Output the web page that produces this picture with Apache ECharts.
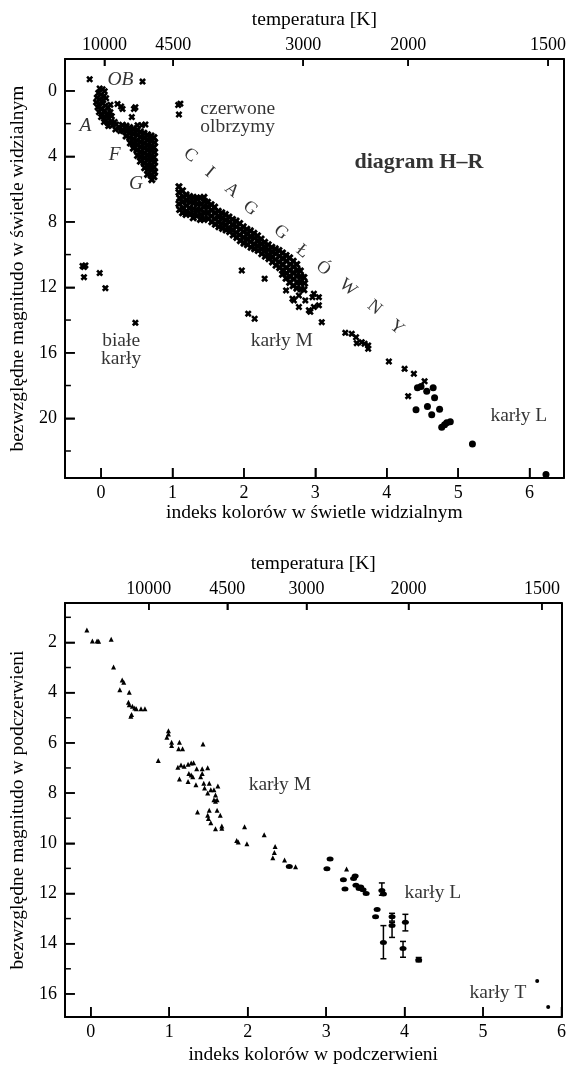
<!DOCTYPE html>
<html><head><meta charset="utf-8">
<script src="https://cdn.jsdelivr.net/npm/echarts@6/dist/echarts.min.js"></script>
<style>html,body{margin:0;padding:0;background:#fff}#c{width:569px;height:1066px}</style>
</head><body><div id="c"></div><script>
// ---------- axis ticks / labels ----------
const xTicksTop = [0, 1, 2, 3, 4, 5, 6];
const yLabelsTop = [0, 4, 8, 12, 16, 20];
const yMinorTop = [2, 6, 10, 14, 18, 22];
const tempLabels = ['10000', '4500', '3000', '2000', '1500'];
const tempPosTop = [0.046, 1.01, 2.83, 4.30, 6.26];
const xTicksBot = [0, 1, 2, 3, 4, 5, 6];
const yLabelsBot = [2, 4, 6, 8, 10, 12, 14, 16];
const yMinorBot = [1, 3, 5, 7, 9, 11, 13, 15];
const tempPosBot = [0.74, 1.74, 2.75, 4.05, 5.75];

// ---------- top chart (visible) ----------
const topOBA = [[-0.16,-0.71],[0.58,-0.57],
[-0.02,-0.15],[0.02,-0.10],[0.05,0.02],[-0.04,0.12],[0.00,0.22],[0.04,0.32],[-0.06,0.42],[-0.02,0.52],[0.03,0.56],[0.07,0.45],
[-0.07,0.70],[-0.03,0.80],[0.02,0.76],[0.06,0.90],[-0.05,1.00],[0.00,1.10],[0.05,1.20],[0.10,1.02],[0.13,0.85],
[-0.03,1.30],[0.02,1.45],[0.08,1.40],[0.13,1.30],[0.00,1.60],[0.05,1.70],[0.10,1.65],[0.15,1.55],
[0.04,1.90],[0.09,1.95],[0.14,1.85],[0.19,1.90],[0.10,2.15],[0.16,2.10],[0.21,2.05],[0.25,2.20],[0.20,2.35],[0.27,2.45],
[0.23,0.80],[0.28,0.95],[0.30,1.10],[0.46,1.10],[0.48,1.00],[0.43,1.60],[0.51,2.10],[0.57,2.10],[0.62,2.05]];
const topFG = [[0.30,2.10],[0.31,2.42],
[0.35,2.15],[0.36,2.47],[0.35,2.76],
[0.40,2.24],[0.41,2.56],[0.40,2.86],[0.41,3.18],
[0.45,2.30],[0.46,2.62],[0.45,2.92],[0.46,3.22],[0.45,3.50],
[0.50,2.40],[0.51,2.70],[0.50,3.02],[0.51,3.32],[0.50,3.62],[0.51,3.95],
[0.55,2.50],[0.56,2.82],[0.55,3.12],[0.56,3.42],[0.55,3.72],[0.56,4.02],[0.55,4.30],
[0.60,2.58],[0.61,2.90],[0.60,3.20],[0.61,3.50],[0.60,3.80],[0.61,4.10],[0.60,4.40],[0.61,4.70],
[0.65,2.68],[0.66,3.00],[0.65,3.30],[0.66,3.60],[0.65,3.90],[0.66,4.20],[0.65,4.50],[0.66,4.80],[0.65,5.10],
[0.70,2.75],[0.71,3.05],[0.70,3.35],[0.71,3.65],[0.70,3.95],[0.71,4.25],[0.70,4.55],[0.71,4.85],[0.70,5.15],[0.71,5.42],
[0.74,2.85],[0.75,3.15],[0.74,3.45],[0.75,3.75],[0.74,4.05],[0.75,4.35],[0.74,4.65],[0.75,4.95],[0.74,5.25]];
const topGiants = [[1.11,0.78],[1.08,0.86],[1.09,1.44]];
const topMS = [
[1.09,5.85],[1.09,6.20],[1.10,6.55],[1.09,6.90],[1.10,7.25],
[1.14,6.10],[1.15,6.45],[1.14,6.80],[1.15,7.15],[1.14,7.45],
[1.19,6.35],[1.20,6.70],[1.19,7.00],[1.20,7.35],[1.19,7.55],
[1.24,6.45],[1.25,6.80],[1.24,7.15],[1.25,7.50],
[1.29,6.50],[1.30,6.85],[1.29,7.20],[1.30,7.55],[1.29,7.75],
[1.34,6.55],[1.35,6.90],[1.34,7.25],[1.35,7.60],
[1.39,6.55],[1.40,6.90],[1.39,7.25],[1.40,7.55],[1.39,7.85],
[1.44,6.50],[1.45,6.75],[1.44,7.10],[1.45,7.45],[1.44,7.85],
[1.49,6.80],[1.50,7.10],[1.49,7.45],[1.50,7.80],
[1.54,6.95],[1.55,7.30],[1.54,7.65],[1.55,8.00],
[1.59,7.10],[1.60,7.45],[1.59,7.80],[1.60,8.15],
[1.64,7.35],[1.65,7.70],[1.64,8.00],[1.65,8.30],
[1.69,7.45],[1.70,7.80],[1.69,8.10],[1.70,8.40],
[1.74,7.55],[1.75,7.90],[1.74,8.20],[1.75,8.50],
[1.79,7.70],[1.80,8.00],[1.79,8.35],[1.80,8.60],
[1.84,7.85],[1.85,8.20],[1.84,8.50],[1.85,8.80],
[1.89,7.95],[1.90,8.30],[1.89,8.65],[1.90,8.95],
[1.94,8.10],[1.95,8.45],[1.94,8.80],[1.95,9.15],
[1.99,8.30],[2.00,8.60],[1.99,8.95],[2.00,9.30],
[2.04,8.45],[2.05,8.75],[2.04,9.05],[2.05,9.40],
[2.09,8.55],[2.10,8.90],[2.09,9.20],[2.10,9.55],
[2.14,8.70],[2.15,9.00],[2.14,9.35],[2.15,9.65],
[2.19,8.85],[2.20,9.15],[2.19,9.45],[2.20,9.75],
[2.24,9.05],[2.25,9.35],[2.24,9.65],[2.25,9.95],
[2.29,9.25],[2.30,9.55],[2.29,9.80],[2.30,10.10],
[2.34,9.40],[2.35,9.70],[2.34,10.00],[2.35,10.25],
[2.39,9.55],[2.40,9.85],[2.39,10.15],[2.40,10.45],
[2.44,9.65],[2.45,9.95],[2.44,10.30],[2.45,10.65],
[2.49,9.75],[2.50,10.10],[2.49,10.45],[2.50,10.80],
[2.54,9.90],[2.55,10.25],[2.54,10.60],[2.55,10.95],[2.54,11.20],
[2.59,10.05],[2.60,10.40],[2.59,10.80],[2.60,11.15],[2.59,11.45],
[2.64,10.20],[2.65,10.60],[2.64,10.95],[2.65,11.35],[2.64,11.70],
[2.69,10.40],[2.70,10.75],[2.69,11.10],[2.70,11.50],[2.69,11.90],
[2.74,10.60],[2.75,10.95],[2.74,11.30],[2.75,11.70],[2.74,12.05],
[2.79,11.00],[2.80,11.35],[2.79,11.70],[2.80,12.10],
[2.84,11.40],[2.85,11.75],[2.84,12.15]];
const topMSTail = [[1.97,10.97],[2.29,11.47],[2.06,13.61],[2.15,13.92],
[2.59,12.19],[2.68,12.70],[2.77,12.50],[2.86,12.80],[2.96,12.60],[3.05,12.60],[2.77,13.20],[2.91,13.40],[2.98,13.20],[3.09,14.13],
[2.70,12.80],[2.98,12.39],[3.05,13.10],[2.93,13.50],
[3.42,14.78],[3.51,14.84],[3.57,15.05],[3.58,15.41],[3.65,15.35],[3.69,15.45],[3.74,15.55],[3.74,15.75],
[4.03,16.53],[4.25,16.98],[4.38,17.28],[4.53,17.74],[4.30,18.65]];
const topWD = [[-0.24,10.76],[-0.22,10.66],[-0.26,10.70],[-0.24,11.38],[-0.02,11.13],[0.06,12.05],[0.48,14.17]];
const topL = [[4.43,18.14],[4.48,18.06],[4.56,18.35],[4.65,18.14],[4.67,18.75],[4.57,19.28],[4.41,19.48],[4.74,19.45],
[4.63,19.79],[4.77,20.55],[4.81,20.39],[4.84,20.28],[4.89,20.22],[5.20,21.57],[6.23,23.44]];

// top chart annotations
const topNotes = ['OB', 'A', 'F', 'G', 'czerwone\nolbrzymy', 'diagram H–R', 'białe\nkarły', 'karły M', 'karły L'];
const topNotePos = [[0.27,-0.65],[-0.22,2.16],[0.19,3.93],[0.49,5.65],[1.39,1.67],[4.45,4.34],[0.28,15.8],[2.53,15.25],[5.85,19.83]];
const topNoteKind = ['it', 'it', 'it', 'it', 'left', 'bold', 'n', 'n', 'n'];
const seqLetters = ['C', 'I', 'A', 'G', 'G', 'Ł', 'Ó', 'W', 'N', 'Y'];
const seqPos = [[1.25,3.93],[1.52,4.97],[1.83,6.07],[2.09,7.17],[2.52,8.64],[2.82,9.80],[3.11,10.84],[3.46,12.01],[3.83,13.23],[4.14,14.45]];

// ---------- bottom chart (infrared) ----------
const botM = [[-0.05,1.51],[0.02,1.94],[0.08,1.94],[0.10,1.95],[0.26,1.87],[0.29,2.98],[0.40,3.50],[0.42,3.59],[0.37,3.89],
[0.49,3.98],[0.48,4.38],[0.49,4.48],[0.53,4.54],[0.56,4.61],[0.58,4.64],[0.64,4.64],[0.69,4.64],[0.51,4.94],[0.52,4.87],
[0.86,6.70],[0.99,5.52],[0.99,5.65],[0.97,5.78],[1.03,5.98],[1.03,6.11],[1.13,5.98],[1.12,6.24],[1.17,6.24],[1.43,6.05],
[1.13,7.44],[1.11,6.97],[1.15,6.88],[1.19,6.93],[1.24,6.85],[1.28,6.80],[1.31,6.79],[1.25,7.22],[1.28,7.28],[1.30,7.35],
[1.35,7.03],[1.42,7.03],[1.49,6.99],[1.42,7.22],[1.40,7.35],[1.24,7.54],[1.34,7.67],[1.44,7.61],[1.45,7.80],[1.51,7.61],
[1.53,7.87],[1.62,7.72],[1.49,8.00],[1.57,7.87],[1.59,8.08],[1.61,8.27],
[1.36,8.75],[1.51,8.68],[1.49,8.88],[1.50,9.01],[1.61,8.68],[1.65,8.88],[1.67,9.31],[1.67,9.40],[1.53,9.18],[1.59,9.42],
[1.57,8.27],[1.59,8.33],[1.96,9.34],[1.86,9.89],[1.88,9.95],[1.99,10.02],[2.21,9.66],[2.35,10.13],[2.34,10.37],[2.32,10.58],
[2.47,10.67],[2.61,10.94],[3.26,11.03]];
const botL = [[2.53,10.93],[3.05,10.63],[3.01,11.02],[3.22,11.45],[3.24,11.82],[3.35,11.40],[3.37,11.30],[3.38,11.67],[3.42,11.80],
[3.44,11.74],[3.47,11.85],[3.51,12.00],[3.71,11.88],[3.73,12.02],[3.65,12.64],[3.63,12.93],[3.84,12.93],[3.84,13.28],
[4.01,13.15],[3.73,13.95],[3.98,14.19],[4.18,14.65]];
const botErr = [[3.71,11.58,12.07],[3.84,12.79,13.10],[3.84,13.15,13.75],[4.01,12.83,13.49],[3.73,13.28,14.60],[3.98,13.91,14.54],[4.18,14.55,14.72]];
const botT = [[5.69,15.49],[5.83,16.52]];
const botNotes = ['karły M', 'karły L', 'karły T'];
const botNotePos = [[2.41,7.68],[4.36,11.98],[5.19,15.96]];

// ---------- build ----------
const FONT = 'Liberation Serif';
const INK = '#000';
const txt = {fontFamily: FONT, fontSize: 18, color: INK};
const nameTxt = {fontFamily: FONT, fontSize: 19.5, color: INK};
const CROSS = 'path://M0,2.6L2.6,0L5,2.4L7.4,0L10,2.6L7.6,5L10,7.4L7.4,10L5,7.6L2.6,10L0,7.4L2.4,5Z';
const pick = (vals, labels) => v => { for (let i = 0; i < vals.length; i++) if (Math.abs(v - vals[i]) < 1e-6) return labels[i]; return ''; };
const LINE = () => ({show: true, onZero: false, lineStyle: {color: INK, width: 2}});
const TICK = (len, vals) => ({show: true, inside: true, length: len, customValues: vals, lineStyle: {color: INK, width: 1.5}});

function xMain(grid, min, max, ticks, name, gap) {
  return {gridIndex: grid, type: 'value', position: 'bottom', min, max,
    axisLine: LINE(), splitLine: {show: false}, axisTick: TICK(10, ticks),
    axisLabel: Object.assign({customValues: ticks, margin: 6}, txt),
    name, nameLocation: 'middle', nameGap: gap, nameTextStyle: Object.assign({}, nameTxt)};
}
function xTemp(grid, min, max, pos) {
  return {gridIndex: grid, type: 'value', position: 'top', min, max,
    axisLine: LINE(), splitLine: {show: false}, axisTick: TICK(7, pos),
    axisLabel: Object.assign({customValues: pos, margin: 5, formatter: pick(pos, tempLabels)}, txt),
    name: 'temperatura [K]', nameLocation: 'middle', nameGap: 29, nameTextStyle: Object.assign({}, nameTxt)};
}
function yMain(grid, min, max, labels, name) {
  return {gridIndex: grid, type: 'value', inverse: true, min, max, position: 'left',
    axisLine: LINE(), splitLine: {show: false}, axisTick: TICK(10, labels),
    axisLabel: Object.assign({customValues: labels, margin: 8}, txt),
    name, nameLocation: 'middle', nameGap: 31, nameTextStyle: Object.assign({}, nameTxt)};
}
function yRight(grid, min, max) {
  return {gridIndex: grid, type: 'value', inverse: true, min, max, position: 'right',
    axisLine: LINE(), splitLine: {show: false}, axisLabel: {show: false}, axisTick: {show: false}};
}
// tick marks: each datum sits inside the plot ([tick value, interior ref]); the mark is
// drawn at the axis edge, found with the axes' own scale (api.coord of the edge value).
function tickMarks(xi, yi, vals, side, len, ref, edge) {
  const horiz = side === 'bottom' || side === 'top';
  return {type: 'custom', xAxisIndex: xi, yAxisIndex: yi, silent: true, z: 6,
    encode: {x: 0, y: 1},
    data: vals.map(v => horiz ? [v, ref] : [ref, v]),
    renderItem: (p, api) => {
      const c = horiz ? api.coord([api.value(0), edge]) : api.coord([edge, api.value(1)]);
      let s;
      if (side === 'bottom') s = {x1: c[0], y1: c[1], x2: c[0], y2: c[1] - len};
      else if (side === 'top') s = {x1: c[0], y1: c[1], x2: c[0], y2: c[1] + len};
      else s = {x1: c[0], y1: c[1], x2: c[0] + len, y2: c[1]};
      return {type: 'line', shape: s, style: {stroke: INK, lineWidth: 1.5}};
    }};
}
function pts(arr, xi, yi, symbol, size) {
  return {type: 'scatter', xAxisIndex: xi, yAxisIndex: yi, symbol, symbolSize: size, data: arr,
    itemStyle: {color: INK, opacity: 1}, silent: true};
}
function notes(names, pos, kinds, xi, yi, rot) {
  return {type: 'scatter', xAxisIndex: xi, yAxisIndex: yi, symbolSize: 0, silent: true,
    data: names.map((n, i) => {
      const k = kinds ? kinds[i] : 'n';
      const lab = {show: true, position: 'inside', formatter: n, fontFamily: FONT, fontSize: 19.5, color: INK,
        lineHeight: 18, align: k === 'left' ? 'left' : 'center', verticalAlign: 'middle'};
      if (k === 'it') lab.fontStyle = 'italic';
      if (k === 'bold') { lab.fontWeight = 'bold'; lab.fontSize = 22; }
      if (rot) { lab.rotate = rot; lab.fontSize = 18; }
      return {name: n, value: pos[i], label: lab};
    })};
}

const X0 = [-0.507, 6.48], Y0 = [-1.95, 23.65];
const X1 = [-0.33, 6.0], Y1 = [0.43, 16.92];

const option = {
  animation: false,
  backgroundColor: '#fff',
  grid: [
    {left: 61, top: 59, right: 2, height: 419},
    {left: 61, top: 603, right: 2, bottom: 43}
  ],
  xAxis: [
    xMain(0, X0[0], X0[1], xTicksTop, 'indeks kolorów w świetle widzialnym', 24),
    xTemp(0, X0[0], X0[1], tempPosTop),
    xMain(1, X1[0], X1[1], xTicksBot, 'indeks kolorów w podczerwieni', 28),
    xTemp(1, X1[0], X1[1], tempPosBot)
  ],
  yAxis: [
    yMain(0, Y0[0], Y0[1], yLabelsTop, 'bezwzględne magnitudo w świetle widzialnym'),
    yRight(0, Y0[0], Y0[1]),
    yMain(1, Y1[0], Y1[1], yLabelsBot, 'bezwzględne magnitudo w podczerwieni'),
    yRight(1, Y1[0], Y1[1])
  ],
  series: [
    tickMarks(0, 0, xTicksTop, 'bottom', 10, 10, Y0[1]),
    tickMarks(1, 0, tempPosTop, 'top', 7, 10, Y0[0]),
    tickMarks(0, 0, yLabelsTop, 'left', 10, 1, X0[0]),
    tickMarks(0, 0, yMinorTop, 'left', 6, 1, X0[0]),
    tickMarks(2, 2, xTicksBot, 'bottom', 10, 8, Y1[1]),
    tickMarks(3, 2, tempPosBot, 'top', 7, 8, Y1[0]),
    tickMarks(2, 2, yLabelsBot, 'left', 10, 1, X1[0]),
    tickMarks(2, 2, yMinorBot, 'left', 6, 1, X1[0]),
    pts(topOBA, 0, 0, CROSS, 7),
    pts(topFG, 0, 0, CROSS, 8),
    pts(topGiants, 0, 0, CROSS, 7),
    pts(topMS, 0, 0, CROSS, 8),
    pts(topMSTail, 0, 0, CROSS, 7),
    pts(topWD, 0, 0, CROSS, 7),
    pts(topL, 0, 0, 'circle', 7),
    notes(topNotes, topNotePos, topNoteKind, 0, 0, 0),
    notes(seqLetters, seqPos, null, 0, 0, -39.5),
    pts(botM, 2, 2, 'triangle', 5),
    pts(botL, 2, 2, 'circle', [7, 5]),
    pts(botT, 2, 2, 'circle', 4),
    {type: 'custom', xAxisIndex: 2, yAxisIndex: 2, silent: true, data: botErr,
      encode: {x: 0, y: [1, 2]},
      renderItem: (params, api) => {
        const x = api.value(0);
        const a = api.coord([x, api.value(1)]), b = api.coord([x, api.value(2)]);
        const st = {stroke: INK, lineWidth: 1.5};
        return {type: 'group', children: [
          {type: 'line', shape: {x1: a[0], y1: a[1], x2: b[0], y2: b[1]}, style: st},
          {type: 'line', shape: {x1: a[0] - 3, y1: a[1], x2: a[0] + 3, y2: a[1]}, style: st},
          {type: 'line', shape: {x1: b[0] - 3, y1: b[1], x2: b[0] + 3, y2: b[1]}, style: st}
        ]};
      }},
    notes(botNotes, botNotePos, null, 2, 2, 0)
  ]
};
const chart = echarts.init(document.getElementById('c'), null, {renderer: 'canvas'});
chart.setOption(option);
</script></body></html>
